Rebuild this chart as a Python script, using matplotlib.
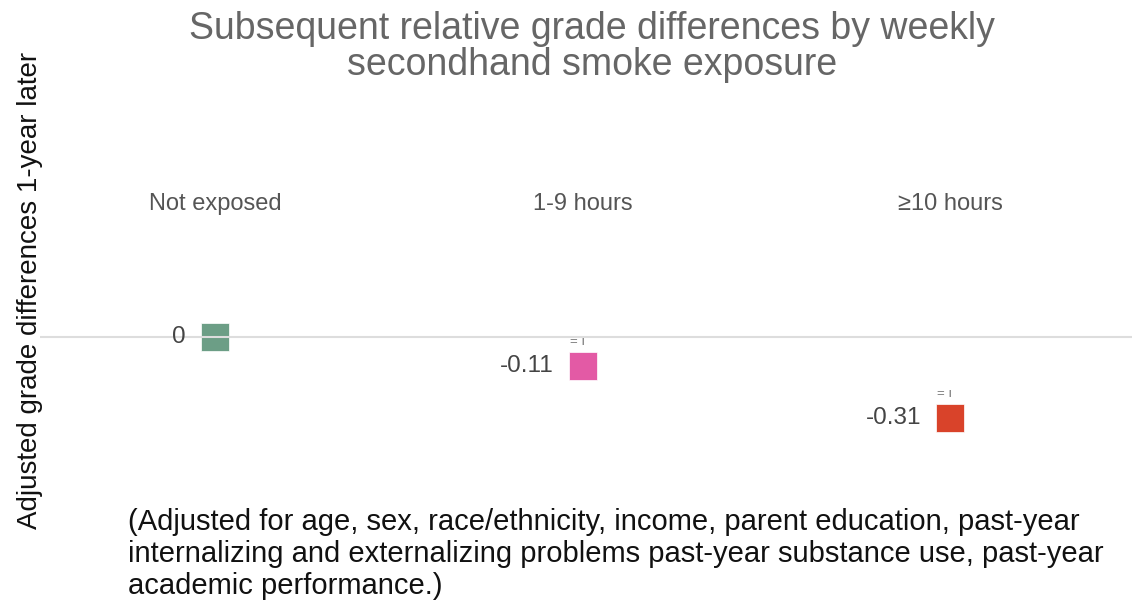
import matplotlib
matplotlib.use("Agg")
import matplotlib.pyplot as plt
import matplotlib.transforms as mtransforms

plt.rcParams['font.family'] = ['Liberation Sans', 'DejaVu Sans']

categories = ["Not exposed", "1-9 hours", "\u226510 hours"]
values = [0, -0.11, -0.31]
value_labels = ["0", "-0.11", "-0.31"]
colors = ["#6c9e86", "#e35aa5", "#d9432a"]
title = "Subsequent relative grade differences by weekly\nsecondhand smoke exposure"
ylabel = "Adjusted grade differences 1-year later"
note = ("(Adjusted for age, sex, race/ethnicity, income, parent education, past-year\n"
        "internalizing and externalizing problems past-year substance use, past-year\n"
        "academic performance.)")

W, H = 1142, 603
fig = plt.figure(figsize=(W / 100, H / 100), dpi=100)
ax = fig.add_axes([40 / W, 1 - 470 / H, 1092 / W, 240 / H])
ax.set_xlim(-0.476, 2.495)
ax.set_ylim(-0.508, 0.408)
for s in ax.spines.values():
    s.set_visible(False)
ax.set_xticks([]); ax.set_yticks([])

ax.axhline(0, color="#dddddd", lw=1.5, zorder=3)

xs = list(range(len(categories)))
for x, v, lab, c in zip(xs, values, value_labels, colors):
    ax.plot(x, v, marker="s", ms=20, color=c, mec="white", mew=0.5, ls="none", zorder=2)
    tr = mtransforms.offset_copy(ax.transData, fig=fig, x=-29, y=0, units="dots")
    ax.text(x, v, lab, transform=tr, ha="right", va="center", fontsize=17.5, color="#444444")
    if v != 0:
        tr2 = mtransforms.offset_copy(ax.transData, fig=fig, x=-5, y=24, units="dots")
        ax.text(x, v, "= \u0131", transform=tr2, ha="center", va="center", fontsize=9.5, color="#777777")

tb = mtransforms.blended_transform_factory(ax.transData, fig.transFigure)
for x, cat in zip(xs, categories):
    ax.text(x, 1 - 204 / H, cat, transform=tb, ha="center", va="center", fontsize=17,
            color="#555555", clip_on=False)

fig.text(592 / W, 1 - 47 / H, title, ha="center", va="center", fontsize=27,
         color="#666666", linespacing=0.98)
fig.text(30 / W, 1 - 290 / H, ylabel, rotation=90, ha="center", va="center",
         fontsize=20, color="#111111")
fig.text(128 / W, 1 - 554 / H, note, ha="left", va="center", fontsize=21,
         color="#111111", linespacing=1.2)

fig.savefig("out.png", dpi=100)
